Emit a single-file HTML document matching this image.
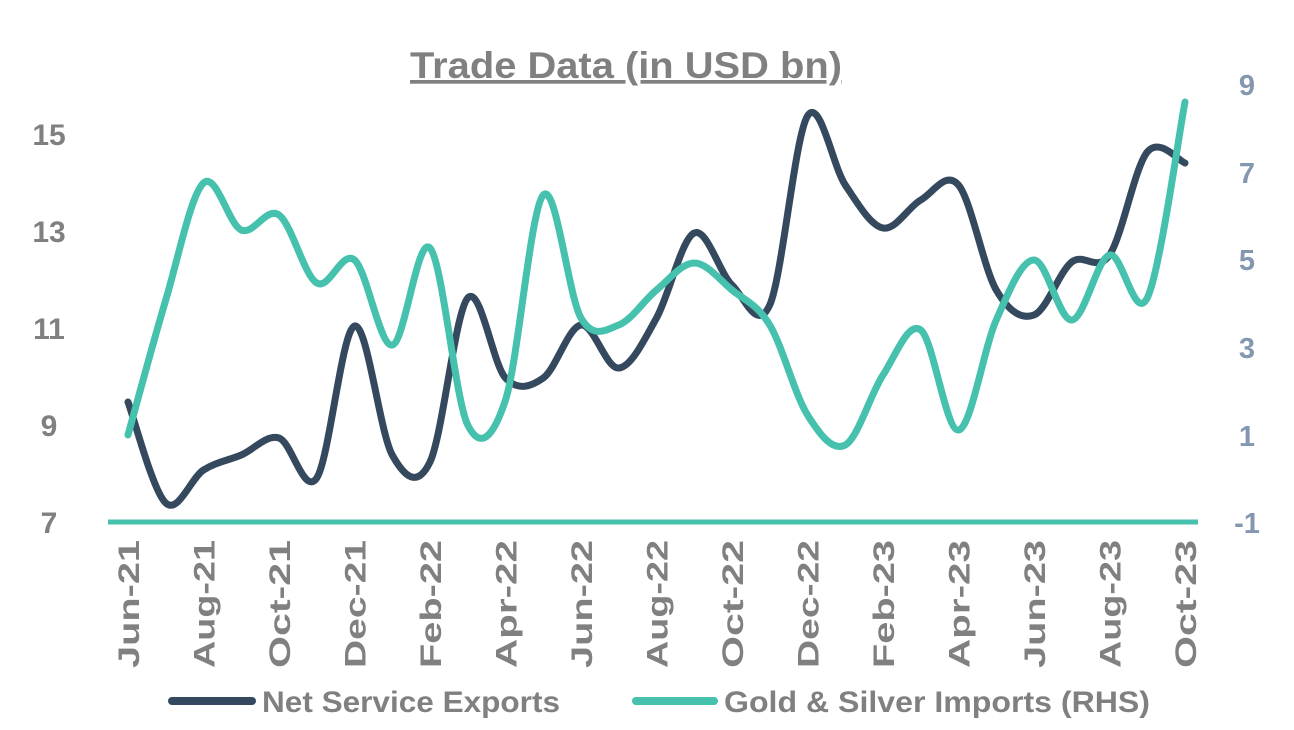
<!DOCTYPE html>
<html><head><meta charset="utf-8"><style>
body{margin:0;background:#fff;}
svg{display:block;font-family:"Liberation Sans",sans-serif;font-weight:bold;}
</style></head><body>
<svg id="s" width="1294" height="730" xmlns="http://www.w3.org/2000/svg">
<text x="626" y="78" text-anchor="middle" font-size="37" fill="#808080" text-decoration="underline" textLength="432" lengthAdjust="spacingAndGlyphs">Trade Data (in USD bn)</text>
<g font-size="30" fill="#808080" text-anchor="middle">
<text x="49" y="145">15</text><text x="49" y="242">13</text><text x="49" y="339">11</text><text x="49" y="436">9</text><text x="49" y="533">7</text>
</g>
<g font-size="29" fill="#8496b0" text-anchor="middle">
<text x="1247" y="95">9</text><text x="1247" y="183">7</text><text x="1247" y="270">5</text><text x="1247" y="358">3</text><text x="1247" y="446">1</text><text x="1247" y="533">-1</text>
</g>
<line x1="108" y1="522" x2="1198" y2="522" stroke="#45c1ad" stroke-width="5"/>
<g id="xl" font-size="30" fill="#808080"></g>
<path id="dk" fill="none" stroke="#34495e" stroke-width="7" stroke-linecap="round" stroke-linejoin="round"/>
<path id="tl" fill="none" stroke="#45c1ad" stroke-width="7" stroke-linecap="round" stroke-linejoin="round"/>
<line x1="172" y1="701" x2="252" y2="701" stroke="#34495e" stroke-width="8" stroke-linecap="round"/>
<text x="262" y="712" font-size="30" fill="#808080" textLength="298" lengthAdjust="spacingAndGlyphs">Net Service Exports</text>
<line x1="636" y1="701" x2="714" y2="701" stroke="#45c1ad" stroke-width="8" stroke-linecap="round"/>
<text x="724" y="712" font-size="30" fill="#808080" textLength="426" lengthAdjust="spacingAndGlyphs">Gold &amp; Silver Imports (RHS)</text>
</svg>
<script>
var x0=128,dx=37.75;
var dk=[402,503,470,455,438,478,326,455,462,298,378,378,325,368,318,233,285,305,116,185,228,200,185,290,315,262,255,152,163];
var tl=[435,300,183,230,215,283,260,345,248,425,400,195,318,325,290,263,290,325,415,445,375,330,430,320,260,320,255,298,102];
function path(a){var p=a.map(function(y,i){return [x0+i*dx,y]});var d="M"+p[0][0]+","+p[0][1];
for(var i=0;i<p.length-1;i++){var a0=p[Math.max(i-1,0)],a1=p[i],a2=p[i+1],a3=p[Math.min(i+2,p.length-1)];var t=6;
d+=" C"+(a1[0]+(a2[0]-a0[0])/t)+","+(a1[1]+(a2[1]-a0[1])/t)+" "+(a2[0]-(a3[0]-a1[0])/t)+","+(a2[1]-(a3[1]-a1[1])/t)+" "+a2[0]+","+a2[1];}return d;}
document.getElementById("dk").setAttribute("d",path(dk));
document.getElementById("tl").setAttribute("d",path(tl));
var labs=["Jun-21","Aug-21","Oct-21","Dec-21","Feb-22","Apr-22","Jun-22","Aug-22","Oct-22","Dec-22","Feb-23","Apr-23","Jun-23","Aug-23","Oct-23"];
var g=document.getElementById("xl"),h="";
labs.forEach(function(l,i){var x=x0+i*2*dx+11;h+='<text x="'+x+'" y="540" text-anchor="end" textLength="128" lengthAdjust="spacingAndGlyphs" transform="rotate(-90 '+x+' 540)">'+l+'</text>';});
g.innerHTML=h;
</script>
</body></html>
